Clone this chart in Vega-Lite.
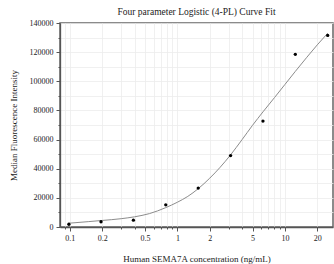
{
  "$schema": "https://vega.github.io/schema/vega-lite/v6.json",
  "width": 273,
  "height": 204,
  "autosize": "none",
  "padding": {"left": 60, "top": 23, "right": 1, "bottom": 37},
  "background": "white",
  "title": {"text": "Four parameter Logistic (4-PL) Curve Fit", "font": "Liberation Serif", "fontSize": 9.5, "fontWeight": "normal", "color": "#222", "offset": 3, "anchor": "middle"},
  "config": {
    "view": {"stroke": "#666", "strokeWidth": 1.5},
    "axis": {
      "labelFont": "Liberation Serif", "labelFontSize": 8, "labelColor": "#222",
      "titleFont": "Liberation Serif", "titleFontSize": 9, "titleFontWeight": "normal", "titleColor": "#222",
      "domainColor": "#555", "domainWidth": 1.3, "tickColor": "#555", "tickWidth": 1,
      "gridColor": "#ececec", "gridWidth": 0.8
    }
  },
  "datasets": {
    "points": [
      {"conc": 0.098, "mfi": 1900},
      {"conc": 0.195, "mfi": 3600},
      {"conc": 0.39, "mfi": 4700},
      {"conc": 0.78, "mfi": 15200},
      {"conc": 1.5625, "mfi": 26700},
      {"conc": 3.125, "mfi": 49000},
      {"conc": 6.25, "mfi": 72700},
      {"conc": 12.5, "mfi": 118500},
      {"conc": 25, "mfi": 131500}
    ],
    "curve": [
      {"conc": 0.098, "mfi": 2600},
      {"conc": 0.15, "mfi": 3700},
      {"conc": 0.2, "mfi": 4500},
      {"conc": 0.3, "mfi": 5700},
      {"conc": 0.4, "mfi": 7000},
      {"conc": 0.55, "mfi": 9200},
      {"conc": 0.78, "mfi": 13300},
      {"conc": 1.0, "mfi": 17000},
      {"conc": 1.25, "mfi": 21000},
      {"conc": 1.5625, "mfi": 26300},
      {"conc": 2.0, "mfi": 33500},
      {"conc": 2.5, "mfi": 41000},
      {"conc": 3.125, "mfi": 49500},
      {"conc": 4.0, "mfi": 60000},
      {"conc": 5.0, "mfi": 69800},
      {"conc": 6.25, "mfi": 79000},
      {"conc": 8.0, "mfi": 88800},
      {"conc": 10.0, "mfi": 97800},
      {"conc": 12.5, "mfi": 106800},
      {"conc": 16.0, "mfi": 116500},
      {"conc": 20.0, "mfi": 125000},
      {"conc": 25.0, "mfi": 133000}
    ]
  },
  "encoding": {
    "x": {
      "field": "conc", "type": "quantitative",
      "scale": {"type": "log", "domain": [0.081, 28], "nice": false},
      "axis": {
        "title": "Human SEMA7A concentration (ng/mL)",
        "values": [0.09, 0.1, 0.2, 0.3, 0.4, 0.5, 0.6, 0.7, 0.8, 0.9, 1, 2, 3, 4, 5, 6, 7, 8, 9, 10, 20],
        "labelExpr": "indexof([0.1,0.2,0.5,1,2,5,10,20], datum.value) >= 0 ? datum.value + '' : ''",
        "tickSize": {"condition": {"test": "indexof([0.1,0.2,0.5,1,2,5,10,20], datum.value) >= 0", "value": 4}, "value": 2},
        "labelPadding": 3, "titlePadding": 12, "labelFlush": false
      }
    },
    "y": {
      "field": "mfi", "type": "quantitative",
      "scale": {"domain": [0, 140000], "nice": false},
      "axis": {
        "title": "Median Fluorescence Intensity",
        "values": [0, 10000, 20000, 30000, 40000, 50000, 60000, 70000, 80000, 90000, 100000, 110000, 120000, 130000, 140000],
        "labelExpr": "datum.value % 20000 === 0 ? datum.value + '' : ''",
        "tickSize": {"condition": {"test": "datum.value % 20000 === 0", "value": 4}, "value": 2},
        "labelPadding": 3, "titlePadding": 11, "labelFlush": false
      }
    }
  },
  "layer": [
    {
      "data": {"name": "curve"},
      "mark": {"type": "line", "color": "#8c8c8c", "strokeWidth": 1, "interpolate": "monotone"}
    },
    {
      "data": {"name": "points"},
      "mark": {"type": "circle", "color": "#000", "opacity": 1, "size": 11}
    },
    {
      "data": {"values": [{}]},
      "mark": {"type": "text", "font": "Liberation Serif", "fontSize": 8.5, "color": "#222", "align": "center", "baseline": "middle"},
      "encoding": {
        "x": {"datum": 10.2, "type": "quantitative"},
        "y": {"datum": 132300, "type": "quantitative"},
        "text": {"value": "R^2=0.994"}
      }
    }
  ]
}
